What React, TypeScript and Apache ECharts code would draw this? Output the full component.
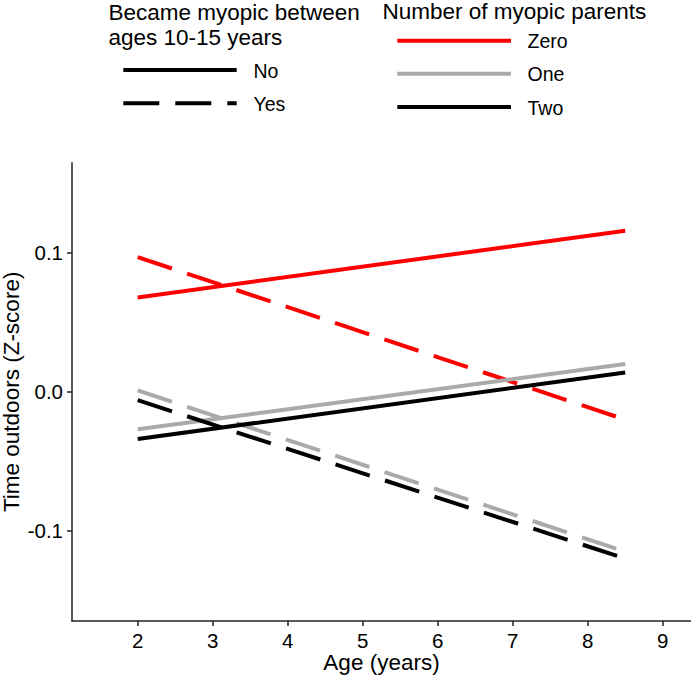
import React, { useEffect, useRef } from "react";
import * as echarts from "echarts";

// Age (years) at which the fitted lines start and end
const ages = [2, 8.5];

// Time outdoors (Z-score) by number of myopic parents and myopia onset
const zeroNo = [0.068, 0.116];
const zeroYes = [0.097, -0.02];
const oneNo = [-0.027, 0.02];
const oneYes = [0.001, -0.115];
const twoNo = [-0.034, 0.014];
const twoYes = [-0.006, -0.12];

const xTicks = [2, 3, 4, 5, 6, 7, 8, 9];
const yTicks = [-0.1, 0, 0.1];

const parentLabels = ["Zero", "One", "Two"];
const onsetLabels = ["No", "Yes"];

const COLORS = ["#ff0000", "#aaaaaa", "#000000"];
const FONT = "'Liberation Sans', Arial, Helvetica, sans-serif";
const DASH = [36, 16];

export default function App() {
  const ref = useRef<HTMLDivElement>(null);

  useEffect(() => {
    if (!ref.current) return;
    const chart = echarts.init(ref.current, null, { renderer: "svg" });

    const groups = [
      { vals: [zeroNo, zeroYes], color: COLORS[0] },
      { vals: [oneNo, oneYes], color: COLORS[1] },
      { vals: [twoNo, twoYes], color: COLORS[2] },
    ];
    const series: any[] = [];
    groups.forEach((g, gi) => {
      g.vals.forEach((v, vi) => {
        series.push({
          type: "line",
          name: parentLabels[gi] + " " + onsetLabels[vi],
          data: ages.map((a, i) => [a, v[i]]),
          showSymbol: false,
          symbol: "none",
          silent: true,
          lineStyle: {
            color: g.color,
            width: 4,
            type: vi === 1 ? DASH : "solid",
            cap: "butt",
          },
        });
      });
    });

    const titleStyle = { fontSize: 22.5, fontFamily: FONT, fill: "#000", align: "left", verticalAlign: "middle" };
    const labStyle = { fontSize: 19.5, fontFamily: FONT, fill: "#000", align: "left", verticalAlign: "middle" };

    const onsetLineYs = [70, 103.3];
    const parentLineYs = [40.7, 73.7, 107];

    const graphic: any[] = [
      { type: "text", x: 108.5, y: 12.9, style: { ...titleStyle, text: "Became myopic between" } },
      { type: "text", x: 108.5, y: 37.2, style: { ...titleStyle, text: "ages 10-15 years" } },
      { type: "text", x: 382.5, y: 11.5, style: { ...titleStyle, text: "Number of myopic parents" } },
    ];
    onsetLabels.forEach((lab, i) => {
      graphic.push({
        type: "line",
        shape: { x1: 123.3, y1: onsetLineYs[i], x2: 236.7, y2: onsetLineYs[i] },
        style: { stroke: "#000", lineWidth: 4, lineDash: i === 1 ? DASH : null, lineCap: "butt" },
      });
      graphic.push({ type: "text", x: 253.5, y: onsetLineYs[i] + 0.5, style: { ...labStyle, text: lab } });
    });
    parentLabels.forEach((lab, i) => {
      graphic.push({
        type: "line",
        shape: { x1: 397.3, y1: parentLineYs[i], x2: 511, y2: parentLineYs[i] },
        style: { stroke: COLORS[i], lineWidth: 4, lineCap: "butt" },
      });
      graphic.push({ type: "text", x: 527.5, y: parentLineYs[i] + 0.5, style: { ...labStyle, text: lab } });
    });

    const axisLine = { show: true, onZero: false, lineStyle: { color: "#222", width: 1.5 } };
    const axisTick = { show: true, length: 5, lineStyle: { color: "#222", width: 1.5 } };

    chart.setOption({
      animation: false,
      backgroundColor: "#ffffff",
      grid: {
        left: 72,
        top: 162.7,
        right: 0,
        bottom: 58,
        containLabel: false,
        outerBoundsMode: "none",
      },
      xAxis: {
        type: "value",
        min: 1.124,
        max: 9.377,
        name: "Age (years)",
        nameLocation: "middle",
        nameGap: 30,
        nameMoveOverlap: false,
        nameTextStyle: { fontSize: 22.5, fontFamily: FONT, color: "#000000" },
        axisLine,
        axisTick: { ...axisTick, customValues: xTicks },
        axisLabel: {
          customValues: xTicks,
          fontSize: 20.5,
          fontFamily: FONT,
          color: "#000",
          margin: 9,
          formatter: (v: number) => String(v),
        },
        splitLine: { show: false },
      },
      yAxis: {
        type: "value",
        min: -0.165,
        max: 0.165,
        name: "Time outdoors (Z-score)",
        nameLocation: "middle",
        nameGap: 49,
        nameMoveOverlap: false,
        nameTextStyle: { fontSize: 22.5, fontFamily: FONT, color: "#000000" },
        axisLine,
        axisTick: { ...axisTick, customValues: yTicks },
        axisLabel: {
          customValues: yTicks,
          fontSize: 20.5,
          fontFamily: FONT,
          color: "#000",
          margin: 9,
          formatter: (v: number) => v.toFixed(1),
        },
        splitLine: { show: false },
      },
      graphic,
      series,
    });

    return () => chart.dispose();
  }, []);

  return (
    <div
      ref={ref}
      style={{ position: "fixed", left: 0, top: 0, width: 691, height: 679, background: "#fff" }}
    />
  );
}
